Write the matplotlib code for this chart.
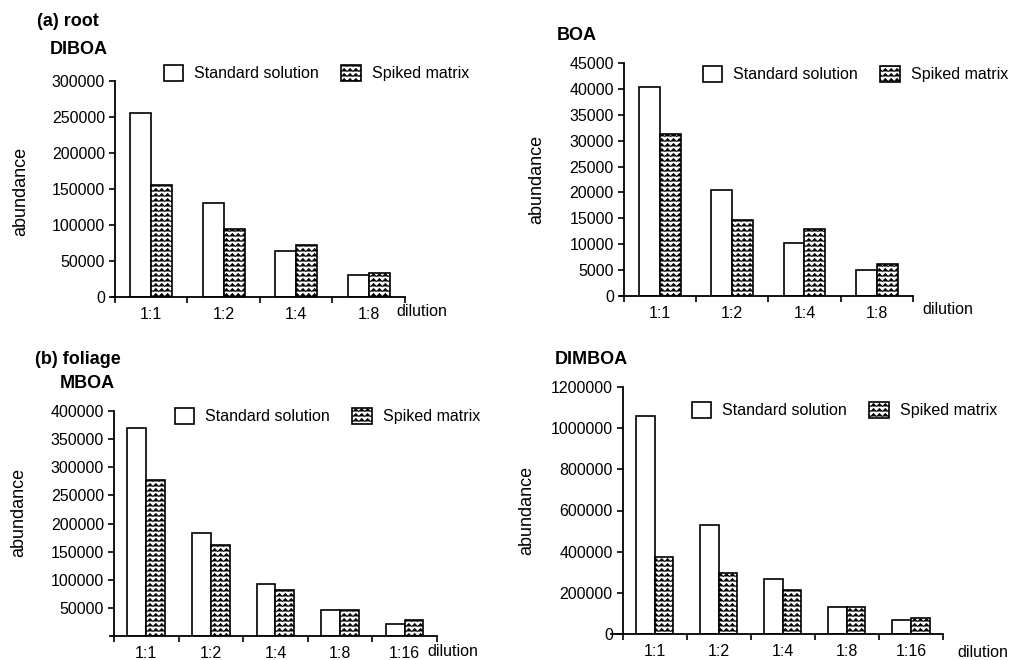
import warnings
import numpy as np
import matplotlib
matplotlib.use("Agg")
import matplotlib.pyplot as plt
import matplotlib.hatch as mhatch
from matplotlib.path import Path
from matplotlib.ticker import StrMethodFormatter

warnings.filterwarnings("ignore")

# data
dil_4 = ["1:1", "1:2", "1:4", "1:8"]
dil_5 = ["1:1", "1:2", "1:4", "1:8", "1:16"]

diboa_std = [255000, 130000, 64000, 31000]
diboa_spk = [155000, 95000, 72000, 34000]

boa_std = [40300, 20500, 10200, 5000]
boa_spk = [31200, 14600, 13000, 6200]

mboa_std = [370000, 183000, 92000, 46000, 21000]
mboa_spk = [277000, 161000, 82000, 46000, 29000]

dimboa_std = [1060000, 530000, 265000, 130000, 70000]
dimboa_spk = [372000, 295000, 213000, 130000, 78000]


# wavy hatch ("~") registered with matplotlib's hatch machinery
class WaveHatch(mhatch.HatchPatternBase):
    def __init__(self, hatch, density):
        self.num_rows = hatch.count("~") * 5
        self.num_seg = 34
        self.num_lines = self.num_rows + 1 if self.num_rows else 0
        self.num_vertices = self.num_lines * (self.num_seg + 1)

    def set_vertices_and_codes(self, vertices, codes):
        xs = np.linspace(0, 1, self.num_seg + 1)
        amp = 0.3 / self.num_rows
        wave = np.where(np.arange(self.num_seg + 1) % 2 == 0, -amp, amp)
        n = self.num_seg + 1
        for i, y in enumerate(np.linspace(0, 1, self.num_lines)):
            vertices[i * n:(i + 1) * n, 0] = xs
            vertices[i * n:(i + 1) * n, 1] = y + wave
            codes[i * n] = Path.MOVETO
            codes[i * n + 1:(i + 1) * n] = Path.LINETO


mhatch._hatch_types.append(WaveHatch)

plt.rcParams["font.family"] = ["Liberation Sans", "DejaVu Sans"]
plt.rcParams["hatch.linewidth"] = 0.6
plt.rcParams["hatch.color"] = "#5a5a5a"

W, H = 1011, 660
fig = plt.figure(figsize=(W / 100, H / 100), dpi=100)


def px_axes(left, top, right, bottom):
    return fig.add_axes([left / W, 1 - bottom / H, (right - left) / W, (bottom - top) / H])


def panel(ax, cats, std, spk, ymax, yticks, over, ylab_xy, dil_xy, leg_xy):
    x = np.arange(len(cats))
    w = 0.29
    ax.bar(x - w, std, w, align="edge", color="white", edgecolor="black",
           linewidth=1.2, label="Standard solution")
    ax.bar(x, spk, w, align="edge", color="white", edgecolor="black",
           linewidth=1.2, hatch="~~~~", label="Spiked matrix")
    ax.set_xlim(-0.5 - over, len(cats) - 0.5)
    ax.set_ylim(0, ymax)
    for s in ["top", "right"]:
        ax.spines[s].set_visible(False)
    ax.spines["left"].set_position(("data", -0.5))
    ax.spines["left"].set_linewidth(1.3)
    ax.spines["bottom"].set_linewidth(1.3)
    ax.set_yticks(yticks)
    ax.yaxis.set_major_formatter(StrMethodFormatter("{x:.0f}"))
    ax.set_xticks(x)
    ax.set_xticklabels(cats)
    ax.set_xticks(np.arange(len(cats) + 1) - 0.5, minor=True)
    ax.tick_params(axis="x", which="major", length=0, pad=7, labelsize=11.5)
    ax.tick_params(axis="x", which="minor", length=4, width=1.2, direction="out")
    ax.tick_params(axis="y", length=4, width=1.2, direction="out", labelsize=11.5, pad=3)
    ax.set_ylabel("abundance", fontsize=13)
    ax.yaxis.label.set_va("center")
    ax.yaxis.set_label_coords(*ylab_xy)
    ax.set_xlabel("dilution", fontsize=11.5, ha="left", va="center")
    ax.xaxis.set_label_coords(*dil_xy)
    ax.legend(loc="center left", bbox_to_anchor=(leg_xy[0] / W, 1 - leg_xy[1] / H),
              bbox_transform=fig.transFigure, ncol=2, frameon=False, fontsize=11.5,
              handlelength=1.2, handleheight=1.2, handletextpad=0.7,
              columnspacing=1.4, borderpad=0, borderaxespad=0)


ax1 = px_axes(112, 81, 405, 297)
panel(ax1, dil_4, diboa_std, diboa_spk, 300000, np.arange(0, 300001, 50000), 0.04,
      (-0.31, 0.49), (0.972, -0.069), (164, 73))

ax2 = px_axes(620, 63, 913, 296)
panel(ax2, dil_4, boa_std, boa_spk, 45000, np.arange(0, 45001, 5000), 0.05,
      (-0.285, 0.5), (1.031, -0.056), (703, 74))

ax3 = px_axes(110, 411, 437, 636)
panel(ax3, dil_5, mboa_std, mboa_spk, 400000, np.arange(50000, 400001, 50000), 0.06,
      (-0.28, 0.55), (0.972, -0.067), (175, 416))

ax4 = px_axes(611, 387, 943, 634)
panel(ax4, dil_5, dimboa_std, dimboa_spk, 1200000, np.arange(0, 1200001, 200000), 0.18,
      (-0.255, 0.5), (1.044, -0.076), (692, 410))

bold = dict(fontsize=13, fontweight="bold", va="center", ha="left")
fig.text(37 / W, 1 - 22 / H, "(a) root", **bold)
fig.text(50 / W, 1 - 49 / H, "DIBOA", **bold)
fig.text(557 / W, 1 - 36 / H, "BOA", **bold)
fig.text(35 / W, 1 - 360 / H, "(b) foliage", **bold)
fig.text(60 / W, 1 - 383 / H, "MBOA", **bold)
fig.text(555 / W, 1 - 360 / H, "DIMBOA", **bold)

fig.savefig("out.png", dpi=100)
